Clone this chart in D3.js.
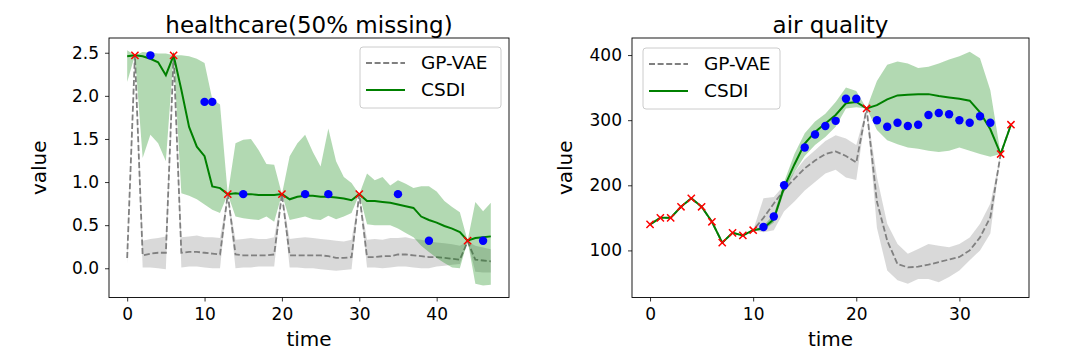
<!DOCTYPE html>
<html>
<head>
<meta charset="utf-8">
<title>healthcare / air quality</title>
<script src="https://cdnjs.cloudflare.com/ajax/libs/d3/7.8.5/d3.min.js"></script>
<style>
  body { margin: 0; background: #fff; }
  svg text { font-family: "DejaVu Sans", sans-serif; fill: #000; }
</style>
</head>
<body>
<div id="viz"></div>
<script>
// DATA: healthcare (50% missing)
var hcTime = [0,1,2,3,4,5,6,7,8,9,10,11,12,13,14,15,16,17,18,19,20,21,22,23,24,25,26,27,28,29,30,31,32,33,34,35,36,37,38,39,40,41,42,43,44,45,46,47];
var hcCsdiMed = [2.46,2.47,2.46,2.43,2.39,2.24,2.47,2.07,1.64,1.41, 1.30,0.95,0.93,0.86,0.87,0.86,0.86,0.85,0.85,0.85, 0.86,0.80,0.83,0.84,0.84,0.83,0.83,0.82,0.81,0.79, 0.86,0.78,0.78,0.77,0.76,0.74,0.72,0.70,0.60,0.56, 0.53,0.49,0.46,0.42,0.32,0.35,0.36,0.37];
var hcCsdiLo = [2.16,2.47,1.28,1.55,1.45,1.24,2.47,0.87,0.84,0.80, 0.74,0.68,0.64,0.86,0.60,0.58,0.57,0.56,0.60,0.54, 0.86,0.56,0.58,0.60,0.57,0.56,0.61,0.57,0.60,0.64, 0.86,0.51,0.50,0.50,0.50,0.46,0.41,0.36,0.26,0.19, 0.12,0.06,0.01,0.00,0.32,-0.18,-0.20,-0.19];
var hcCsdiHi = [2.53,2.47,2.51,2.50,2.49,2.49,2.47,2.47,2.46,2.43, 2.38,1.96,1.90,0.86,1.45,1.49,1.50,1.37,1.21,1.20, 0.86,1.30,1.45,1.55,1.35,1.18,1.62,1.24,1.06,0.99, 0.86,1.10,1.02,1.06,0.96,1.02,0.98,0.93,0.95,0.95, 0.89,0.78,0.71,0.65,0.32,0.77,0.66,0.76];
var hcGpMed = [0.12,2.47,0.15,0.17,0.18,0.18,2.47,0.18,0.19,0.19, 0.18,0.17,0.16,0.86,0.16,0.15,0.15,0.15,0.15,0.16, 0.86,0.15,0.15,0.15,0.15,0.15,0.14,0.12,0.12,0.13, 0.86,0.13,0.13,0.14,0.14,0.16,0.16,0.15,0.14,0.13, 0.13,0.12,0.11,0.10,0.31,0.10,0.09,0.08];
var hcGpLo = [0.05,2.47,0.01,0.01,0.00,-0.01,2.47,0.01,0.02,0.02, 0.01,0.00,0.00,0.86,0.00,0.01,0.01,0.02,0.02,0.02, 0.86,0.01,0.01,0.00,0.00,-0.01,-0.02,-0.03,-0.02,-0.01, 0.86,0.01,0.01,0.00,0.01,0.02,0.02,0.01,0.00,0.00, 0.02,0.03,0.04,0.05,0.31,-0.04,-0.05,-0.05];
var hcGpHi = [0.20,2.47,0.32,0.34,0.35,0.37,2.47,0.36,0.37,0.38, 0.36,0.36,0.35,0.86,0.33,0.34,0.35,0.34,0.34,0.36, 0.86,0.34,0.35,0.36,0.35,0.34,0.33,0.32,0.31,0.33, 0.86,0.33,0.34,0.33,0.35,0.35,0.36,0.34,0.33,0.31, 0.30,0.29,0.28,0.26,0.31,0.26,0.24,0.22];
var hcObsT = [1,6,13,20,30,44];
var hcObsV = [2.47,2.47,0.86,0.86,0.86,0.32];
var hcTgtT = [3,10,11,15,23,26,35,39,46];
var hcTgtV = [2.47,1.93,1.93,0.86,0.86,0.86,0.86,0.32,0.32];
var hcXTicks = [0,10,20,30,40];
var hcYTicks = [0,0.5,1,1.5,2,2.5];

// DATA: air quality
var aqTime = [0,1,2,3,4,5,6,7,8,9,10,11,12,13,14,15,16,17,18,19,20,21,22,23,24,25,26,27,28,29,30,31,32,33,34,35];
var aqCsdiMed = [140,150,150,167,180,167,144,112,127,123,131, 134,148,197,232,264,282,295,308,326,328, 318,323,332,338,339,340,340,337,335,333, 330,312,286,248,293];
var aqCsdiLo = [140,150,150,167,180,167,144,112,127,123,131, 131,143,190,220,245,262,274,290,318,320, 318,285,269,263,258,256,253,251,253,258, 253,248,244,248,293];
var aqCsdiHi = [140,150,150,167,180,167,144,112,127,123,131, 138,155,205,248,280,298,310,328,350,345, 318,360,385,390,387,380,382,387,393,398, 405,395,346,248,293];
var aqGpMed = [140,150,150,167,180,167,144,112,127,123,131, 150,172,193,210,226,238,248,252,245,235, 318,175,115,79,74,75,78,82,86,90, 100,120,151,248,293];
var aqGpLo = [140,150,150,167,180,167,144,112,127,123,131, 128,131,160,175,192,205,218,224,212,208, 318,135,69,54,49,56,56,51,59,69, 85,100,126,248,293];
var aqGpHi = [140,150,150,167,180,167,144,112,127,123,131, 180,182,200,220,240,254,268,277,272,262, 318,213,141,110,95,102,110,107,105,110, 120,141,172,248,293];
var aqObsT = [0,1,2,3,4,5,6,7,8,9,10,21,34,35];
var aqObsV = [140,150,150,167,180,167,144,112,127,123,131,318,248,293];
var aqTgtT = [11,12,13,15,16,17,18,19,20,22,23,24,25,26,27,28,29,30,31,32,33];
var aqTgtV = [136,152,200,258,278,291,299,333,333,300,290,296,291,293,308,311,309,300,296,306,296];
var aqXTicks = [0,10,20,30];
var aqYTicks = [100,200,300,400];

var seriesNames = ["GP-VAE", "CSDI"];

// COLORS
var green = "#008000", gray = "#808080";

var W = 1080, H = 358;
var svg = d3.select("#viz").append("svg")
  .attr("width", W).attr("height", H)
  .attr("viewBox", "0 0 " + W + " " + H);

function panel(cfg) {
  var x = d3.scaleLinear().domain(cfg.xDom).range([cfg.left, cfg.right]);
  var y = d3.scaleLinear().domain(cfg.yDom).range([cfg.bottom, cfg.top]);
  var g = svg.append("g");

  var rows = cfg.t.map(function(t, i) {
    return { t: t, cm: cfg.cMed[i], cl: cfg.cLo[i], ch: cfg.cHi[i], gm: cfg.gMed[i], gl: cfg.gLo[i], gh: cfg.gHi[i] };
  });

  var clipId = "clip" + cfg.id;
  g.append("clipPath").attr("id", clipId).append("rect")
    .attr("x", cfg.left).attr("y", cfg.top)
    .attr("width", cfg.right - cfg.left).attr("height", cfg.bottom - cfg.top);
  var plot = g.append("g").attr("clip-path", "url(#" + clipId + ")");

  // GP-VAE band + line
  plot.append("path").datum(rows)
    .attr("d", d3.area().x(function(d) { return x(d.t); })
      .y0(function(d) { return y(d.gl); }).y1(function(d) { return y(d.gh); }))
    .attr("fill", gray).attr("fill-opacity", 0.3);
  plot.append("path").datum(rows)
    .attr("d", d3.line().x(function(d) { return x(d.t); }).y(function(d) { return y(d.gm); }))
    .attr("fill", "none").attr("stroke", gray).attr("stroke-width", 1.8)
    .attr("stroke-dasharray", "6,2.6");

  // CSDI band + line
  plot.append("path").datum(rows)
    .attr("d", d3.area().x(function(d) { return x(d.t); })
      .y0(function(d) { return y(d.cl); }).y1(function(d) { return y(d.ch); }))
    .attr("fill", green).attr("fill-opacity", 0.3);
  plot.append("path").datum(rows)
    .attr("d", d3.line().x(function(d) { return x(d.t); }).y(function(d) { return y(d.cm); }))
    .attr("fill", "none").attr("stroke", green).attr("stroke-width", 2);

  // targets (blue) and observed (red x)
  plot.selectAll("circle.tgt").data(cfg.tgtT).enter().append("circle")
    .attr("class", "tgt")
    .attr("cx", function(d) { return x(d); })
    .attr("cy", function(d, i) { return y(cfg.tgtV[i]); })
    .attr("r", 4.2).attr("fill", "#0000ff");
  var s = 3.6;
  plot.selectAll("path.obs").data(cfg.obsT).enter().append("path")
    .attr("class", "obs")
    .attr("d", function(d, i) {
      var cx = x(d), cy = y(cfg.obsV[i]);
      return "M" + (cx - s) + "," + (cy - s) + "L" + (cx + s) + "," + (cy + s) +
             "M" + (cx - s) + "," + (cy + s) + "L" + (cx + s) + "," + (cy - s);
    })
    .attr("stroke", "#ff0000").attr("stroke-width", 1.5).attr("fill", "none");

  // AXES
  var xa = g.append("g").attr("transform", "translate(0," + cfg.bottom + ")")
    .call(d3.axisBottom(x).tickValues(cfg.xTicks).tickSize(4).tickFormat(d3.format("d")));
  var ya = g.append("g").attr("transform", "translate(" + cfg.left + ",0)")
    .call(d3.axisLeft(y).tickValues(cfg.yTicks).tickSize(4).tickPadding(6).tickFormat(d3.format(cfg.yFmt)));
  [xa, ya].forEach(function(a) {
    a.select(".domain").remove();
    a.selectAll("text").style("font-size", "17px").attr("fill", "#000");
    a.selectAll("line").attr("stroke", "#000").attr("stroke-width", 0.8);
  });
  xa.selectAll("text").attr("dy", null).attr("y", 22.5);

  g.append("rect")
    .attr("x", cfg.left).attr("y", cfg.top)
    .attr("width", cfg.right - cfg.left).attr("height", cfg.bottom - cfg.top)
    .attr("fill", "none").attr("stroke", "#000").attr("stroke-width", 0.9);

  // TITLES
  g.append("text").attr("x", (cfg.left + cfg.right) / 2).attr("y", 33)
    .attr("text-anchor", "middle").style("font-size", "23px").text(cfg.title);
  g.append("text").attr("x", (cfg.left + cfg.right) / 2).attr("y", 346)
    .attr("text-anchor", "middle").style("font-size", "20px").text("time");
  g.append("text")
    .attr("transform", "translate(" + cfg.yLabelX + "," + (cfg.top + cfg.bottom) / 2 + ") rotate(-90)")
    .attr("text-anchor", "middle").style("font-size", "20px").text("value");

  // LEGEND
  var lg = g.append("g").attr("transform", "translate(" + cfg.legX + "," + cfg.legY + ")");
  lg.append("rect").attr("width", cfg.legW).attr("height", 61).attr("rx", 3)
    .attr("fill", "#fff").attr("fill-opacity", 0.8)
    .attr("stroke", "#cccccc").attr("stroke-width", 1);
  seriesNames.forEach(function(name, i) {
    var ly = 16 + i * 27;
    lg.append("line").attr("x1", 6).attr("x2", 45).attr("y1", ly).attr("y2", ly)
      .attr("stroke", i === 0 ? gray : green).attr("stroke-width", i === 0 ? 1.8 : 2)
      .attr("stroke-dasharray", i === 0 ? "6,2.6" : null);
    lg.append("text").attr("x", 61).attr("y", ly).attr("dy", "0.35em")
      .style("font-size", "18.5px").text(name);
  });
}

panel({
  id: "hc", title: "healthcare(50% missing)",
  left: 109, right: 509, top: 38, bottom: 297.5,
  xDom: [-2.35, 49.35], yDom: [-0.339, 2.671],
  t: hcTime, cMed: hcCsdiMed, cLo: hcCsdiLo, cHi: hcCsdiHi,
  gMed: hcGpMed, gLo: hcGpLo, gHi: hcGpHi,
  obsT: hcObsT, obsV: hcObsV, tgtT: hcTgtT, tgtV: hcTgtV,
  xTicks: hcXTicks, yTicks: hcYTicks, yFmt: ".1f",
  yLabelX: 46, legX: 360, legY: 47, legW: 141
});

panel({
  id: "aq", title: "air quality",
  left: 632, right: 1029, top: 38, bottom: 297.5,
  xDom: [-1.75, 36.75], yDom: [27.7, 426.2],
  t: aqTime, cMed: aqCsdiMed, cLo: aqCsdiLo, cHi: aqCsdiHi,
  gMed: aqGpMed, gLo: aqGpLo, gHi: aqGpHi,
  obsT: aqObsT, obsV: aqObsV, tgtT: aqTgtT, tgtV: aqTgtV,
  xTicks: aqXTicks, yTicks: aqYTicks, yFmt: "d",
  yLabelX: 572, legX: 643, legY: 48, legW: 137
});
</script>
</body>
</html>
